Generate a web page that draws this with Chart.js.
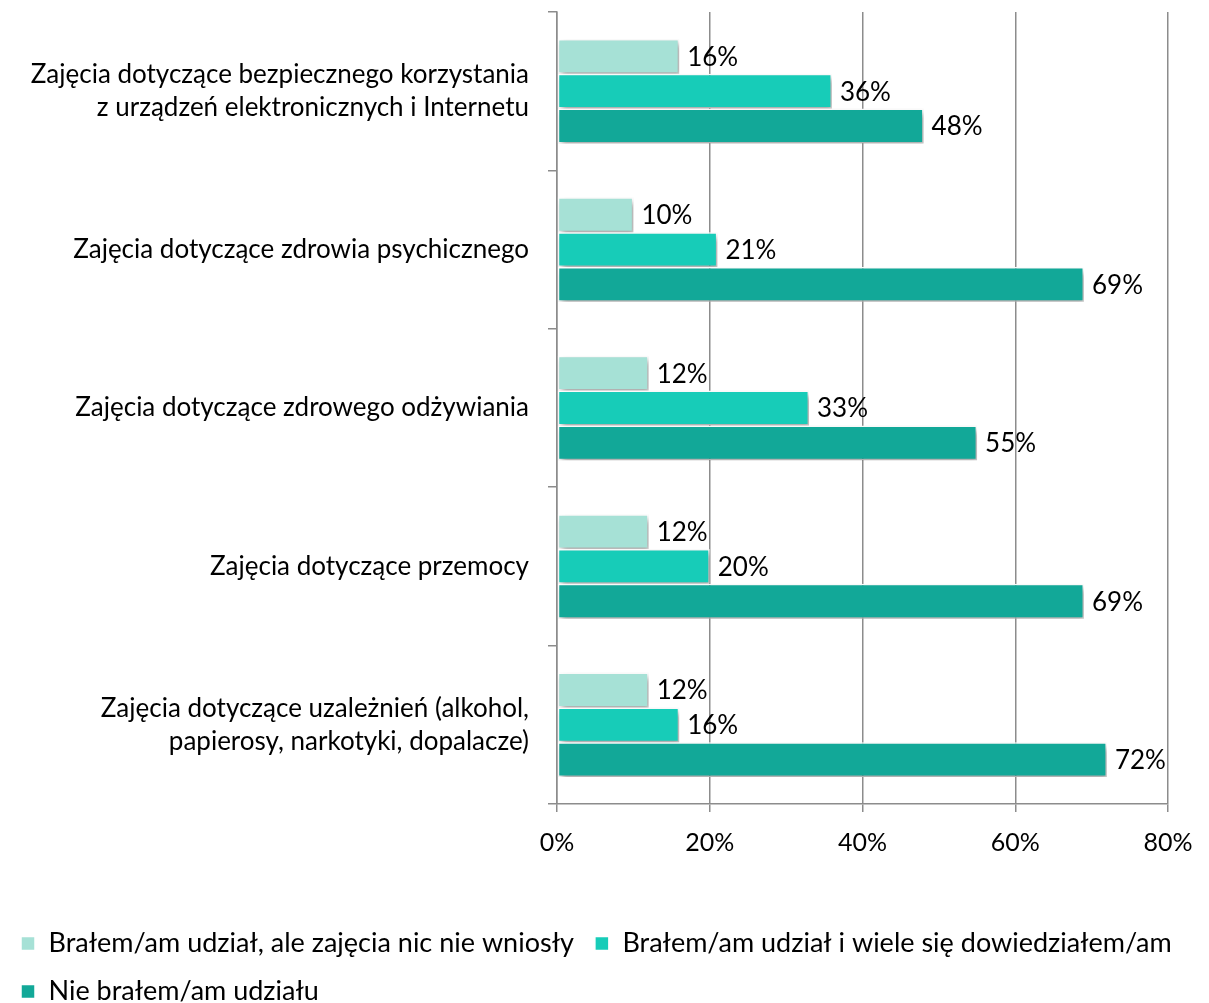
<!DOCTYPE html>
<html>
<head>
<meta charset="utf-8">
<script src="https://cdn.jsdelivr.net/npm/chart.js@4/dist/chart.umd.min.js"></script>
<style>
    html, body { margin: 0; padding: 0; background: #fff; }
    #wrap { width: 1209px; height: 1003px; }
</style>
</head>
<body>
<div id="wrap"><canvas id="chart" width="1209" height="1003"></canvas></div>
<script>
const categories = [
    ['Zajęcia dotyczące bezpiecznego korzystania', 'z urządzeń elektronicznych i Internetu'],
    'Zajęcia dotyczące zdrowia psychicznego',
    'Zajęcia dotyczące zdrowego odżywiania',
    'Zajęcia dotyczące przemocy',
    ['Zajęcia dotyczące uzależnień (alkohol,', 'papierosy, narkotyki, dopalacze)'],
];

const seriesNames = [
    'Brałem/am udział, ale zajęcia nic nie wniosły',
    'Brałem/am udział i wiele się dowiedziałem/am',
    'Nie brałem/am udziału',
];

const noEffect = [16, 10, 12, 12, 12];
const learned = [36, 21, 33, 20, 16];
const notTaken = [48, 69, 55, 69, 72];

const xTicks = [0, 20, 40, 60, 80];

const colors = ['#a6e1d6', '#17ccb8', '#12a898'];
const FONT = 'Lato, "Noto Sans", sans-serif';
const GRID = '#8c8c8c';

// soft drop shadow under the bars
const barShadow = {
    id: 'barShadow',
    beforeDatasetsDraw(chart) {
        const ctx = chart.ctx;
        ctx.save();
        ctx.shadowColor = 'rgba(0, 0, 0, 0.35)';
        ctx.shadowBlur = 6;
        ctx.shadowOffsetX = 3;
        ctx.shadowOffsetY = 4;
    },
    afterDatasetsDraw(chart) {
        chart.ctx.restore();
    },
};

// percent labels at the end of each bar
const valueLabels = {
    id: 'valueLabels',
    afterDraw(chart) {
        const ctx = chart.ctx;
        ctx.save();
        ctx.font = '26px ' + FONT;
        ctx.fillStyle = '#000';
        ctx.textAlign = 'left';
        ctx.textBaseline = 'middle';
        chart.data.datasets.forEach((ds, i) => {
            chart.getDatasetMeta(i).data.forEach((bar, j) => {
                ctx.fillText(ds.data[j] + '%', bar.x + 8, bar.y + 1);
            });
        });
        ctx.restore();
    },
};

const data = {
    labels: categories,
    datasets: [noEffect, learned, notTaken].map((values, i) => ({
        label: seriesNames[i],
        data: values,
        backgroundColor: colors[i],
        borderColor: '#ffffff',
        borderWidth: 1.5,
        borderSkipped: false,
        barPercentage: 1.0,
        categoryPercentage: 0.66,
    })),
};

new Chart(document.getElementById('chart'), {
    type: 'bar',
    data: data,
    plugins: [barShadow, valueLabels],
    options: {
        indexAxis: 'y',
        responsive: false,
        animation: false,
        layout: { padding: { top: 12, right: 0, bottom: -12, left: 0 } },
        scales: {
            x: {
                min: 0,
                max: 80,
                afterBuildTicks: (s) => { s.ticks = xTicks.map(v => ({ value: v })); },
                ticks: {
                    callback: (v) => v + '%',
                    color: '#000',
                    font: { family: FONT, size: 25 },
                    padding: 16,
                    maxRotation: 0,
                },
                grid: { color: GRID, lineWidth: 1.5, tickLength: 8 },
                border: { color: GRID, width: 1.5 },
                afterFit: (s) => {
                    s.height = 105;
                    s.paddingRight = 41;
                },
            },
            y: {
                ticks: {
                    color: '#000',
                    font: { family: FONT, size: 26, lineHeight: 1.27 },
                    padding: 19,
                },
                grid: { drawOnChartArea: false, color: GRID, lineWidth: 1.5, tickLength: 9 },
                border: { color: GRID, width: 1.5 },
                afterFit: (s) => {
                    s.width = 557;
                    s.paddingTop = 0;
                    s.paddingBottom = 0;
                },
            },
        },
        plugins: {
            legend: {
                position: 'bottom',
                align: 'start',
                labels: {
                    color: '#000',
                    font: { family: FONT, size: 27 },
                    boxWidth: 14,
                    boxHeight: 14,
                    padding: 21,
                },
            },
            tooltip: { enabled: false },
        },
    },
});
</script>
</body>
</html>
